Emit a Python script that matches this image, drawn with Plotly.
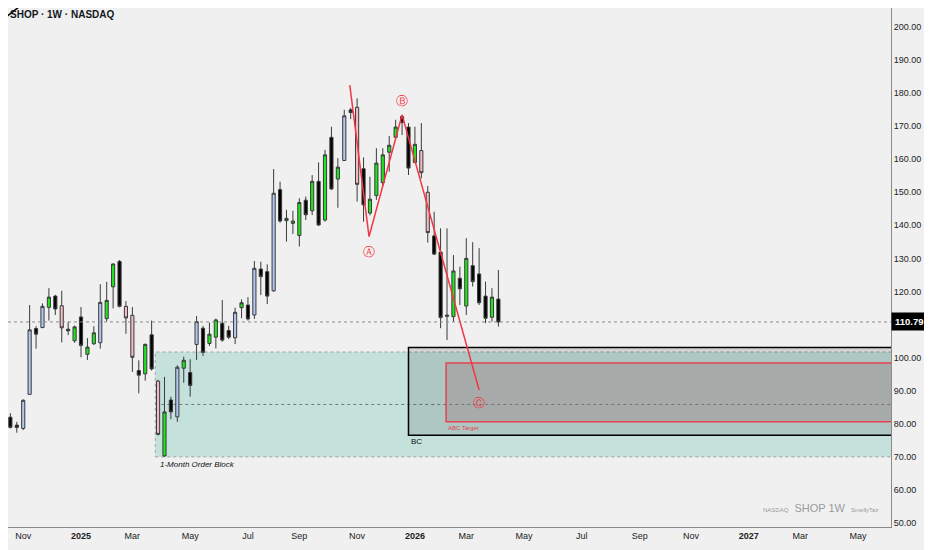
import pandas as pd
import plotly.graph_objects as go

# weekly SHOP candles, first bar = week of 2024-10-14
opens = [83.9, 82.0, 79.6, 78.6, 88.9, 108.8, 109.1, 115.2, 118.6, 115.7,
         108.6, 105.1, 112.3, 101.0, 104.2, 104.5, 111.8, 121.4, 129.1, 115.5,
         112.8, 96.1, 95.1, 106.9, 92.9, 70.3, 87.2, 82.1, 96.8, 95.5,
         104.0, 108.9, 104.3, 106.2, 110.4, 108.2, 106.0, 115.1, 115.9, 112.9,
         126.8, 126.0, 120.2, 150.8, 141.4, 140.6, 136.9, 147.6, 144.4, 153.3,
         141.6, 166.6, 154.0, 159.6, 174.9, 175.7, 157.1, 143.7, 149.0, 152.9,
         162.1, 166.6, 172.9, 169.7, 159.0, 162.6, 150.0, 136.8, 131.9, 112.5,
         112.4, 124.0, 115.6, 127.8, 125.3, 118.6, 112.2, 117.7]
highs = [84.5, 83.2, 80.6, 87.4, 115.9, 109.5, 116.4, 121.0, 119.0, 120.2,
         110.8, 109.7, 115.3, 105.9, 109.5, 122.2, 122.9, 128.5, 129.5, 117.1,
         115.3, 99.2, 104.3, 111.2, 93.3, 94.2, 88.2, 97.7, 100.3, 99.5,
         112.6, 109.6, 110.6, 111.8, 117.4, 109.6, 115.1, 117.6, 118.3, 129.2,
         129.0, 128.2, 157.0, 153.2, 144.7, 144.4, 148.2, 148.7, 155.2, 159.0,
         162.8, 169.8, 160.3, 174.9, 175.5, 178.4, 160.5, 154.7, 163.3, 163.3,
         167.0, 171.9, 173.4, 170.9, 169.8, 170.9, 151.9, 144.1, 139.1, 139.1,
         131.0, 127.5, 136.1, 134.9, 133.1, 123.0, 121.0, 126.5]
lows = [80.6, 78.6, 77.3, 78.1, 88.9, 102.7, 108.9, 111.2, 112.9, 104.6,
        106.8, 104.5, 100.1, 99.3, 103.8, 102.7, 111.0, 114.9, 115.2, 107.2,
        95.7, 89.2, 93.0, 96.1, 76.5, 70.0, 81.4, 80.6, 92.4, 88.2,
        99.3, 100.5, 103.5, 102.8, 104.8, 105.6, 104.1, 111.9, 111.2, 111.7,
        118.9, 116.2, 119.9, 140.8, 135.1, 137.4, 133.6, 141.6, 143.1, 139.8,
        141.1, 150.7, 145.3, 159.5, 172.1, 147.2, 141.1, 143.0, 147.7, 151.7,
        156.2, 165.8, 167.3, 155.2, 158.8, 154.2, 134.8, 131.0, 108.9, 105.3,
        110.9, 115.9, 112.9, 121.5, 115.9, 110.4, 110.9, 109.4]
closes = [82.4, 78.9, 78.9, 87.1, 108.4, 107.1, 115.5, 118.3, 114.7, 109.0,
          108.1, 109.3, 103.7, 103.2, 107.5, 116.7, 117.3, 128.3, 115.5, 112.0,
          100.1, 94.7, 104.0, 96.6, 76.8, 83.6, 83.6, 97.1, 99.2, 91.6,
          110.9, 101.6, 107.1, 111.4, 105.3, 106.2, 113.7, 116.6, 111.7, 127.0,
          124.5, 118.6, 149.7, 141.3, 142.1, 141.3, 146.9, 143.2, 153.3, 140.1,
          161.3, 151.0, 157.6, 173.1, 174.1, 152.4, 146.2, 147.9, 158.8, 161.3,
          164.2, 169.7, 171.1, 157.3, 164.5, 155.9, 137.8, 131.3, 112.1, 112.8,
          126.2, 120.8, 130.0, 123.0, 116.6, 111.9, 118.3, 110.79]
# bar colouring used on the chart: g=green, k=black, b=blue, p=pink
bar_kind = list("kkkbbkbgkp" "kgkggbggkp" "pkgkpgkbgk" "bkggkkbgkb"
                "kkbkgggkgk" "gkgbkpkggg" "ggkkgppkkk" "gkgkkkgk")
dates = pd.date_range("2024-10-14", periods=len(opens), freq="7D")

last_price = 110.79

# ABC swing (red line) and its labels
abc_x = ["2025-10-26", "2025-11-16", "2025-12-22", "2026-03-16"]
abc_y = [182.4, 136.6, 173.4, 90.2]
abc_lbl = ["Ⓐ", "Ⓑ", "Ⓒ"]
abc_lbl_x = ["2025-11-16", "2025-12-22", "2026-03-16"]
abc_lbl_y = [131.9, 177.6, 86.3]

# zones
ob_start, ob_top, ob_bot = "2025-03-28", 101.7, 70.0
bc_start, bc_top, bc_bot = "2025-12-29", 103.1, 76.5
tg_start, tg_top, tg_bot = "2026-02-08", 98.4, 80.6
far_right = "2027-12-31"

tick_dates = ["2024-11-04", "2025-01-06", "2025-03-03", "2025-05-05", "2025-07-07",
              "2025-09-01", "2025-11-03", "2026-01-05", "2026-03-02", "2026-05-04",
              "2026-07-06", "2026-09-07", "2026-11-02", "2027-01-04", "2027-03-01",
              "2027-05-03"]
tick_text = ["Nov", "<b>2025</b>", "Mar", "May", "Jul", "Sep", "Nov", "<b>2026</b>",
             "Mar", "May", "Jul", "Sep", "Nov", "<b>2027</b>", "Mar", "May"]
# 110 is hidden behind the last-price tag
price_ticks = [50, 60, 70, 80, 90, 100, 120, 130, 140, 150, 160, 170, 180, 190, 200]

colors = {"g": "#1ee61e", "k": "#000000", "b": "#b3c8ee", "p": "#f3bcc4"}

fig = go.Figure()

for kind, col in colors.items():
    idx = [i for i, k in enumerate(bar_kind) if k == kind]
    fig.add_trace(go.Candlestick(
        x=[dates[i] for i in idx],
        open=[opens[i] for i in idx], high=[highs[i] for i in idx],
        low=[lows[i] for i in idx], close=[closes[i] for i in idx],
        increasing=dict(fillcolor=col, line=dict(color="#3a3a3a", width=1)),
        decreasing=dict(fillcolor=col, line=dict(color="#3a3a3a", width=1)),
        whiskerwidth=0, showlegend=False, hoverinfo="skip"))

fig.add_trace(go.Scatter(x=abc_x, y=abc_y, mode="lines",
                         line=dict(color="#f23645", width=1.5),
                         showlegend=False, hoverinfo="skip"))

shapes = []
# 1-month order block
shapes.append(dict(type="rect", xref="x", yref="y", x0=ob_start, x1=far_right,
                   y0=ob_bot, y1=ob_top, fillcolor="#c5e1dc", layer="below",
                   line=dict(color="#9aa5a2", width=1, dash="dot")))
shapes.append(dict(type="line", xref="x", yref="y", x0=ob_start, x1=far_right,
                   y0=(ob_top + ob_bot) / 2, y1=(ob_top + ob_bot) / 2, layer="below",
                   line=dict(color="#6f7a78", width=1, dash="dot")))
# BC box
shapes.append(dict(type="rect", xref="x", yref="y", x0=bc_start, x1=far_right,
                   y0=bc_bot, y1=bc_top, fillcolor="rgba(40,40,40,0.14)", layer="below",
                   line=dict(color="#000000", width=1.5)))
# ABC target box
shapes.append(dict(type="rect", xref="x", yref="y", x0=tg_start, x1=far_right,
                   y0=tg_bot, y1=tg_top, fillcolor="rgba(150,120,120,0.35)", layer="below",
                   line=dict(color="#e8404f", width=1.5)))
# last price line
shapes.append(dict(type="line", xref="paper", yref="y", x0=0, x1=1,
                   y0=last_price, y1=last_price,
                   line=dict(color="#8a8a8a", width=1, dash="dot")))
# old trend line poking in at top-left
shapes.append(dict(type="line", xref="x", yref="y", x0="2024-10-09 15:00", y0=201.5,
                   x1="2024-11-24", y1=211.4, line=dict(color="#000000", width=1.5)))
fig.update_layout(shapes=shapes)

ann = []
for t, xx, yy in zip(abc_lbl, abc_lbl_x, abc_lbl_y):
    ann.append(dict(x=xx, y=yy, text=t, showarrow=False,
                    font=dict(color="#f23645", size=12, family="DejaVu Sans")))
ann.append(dict(x="2025-03-31", y=67.8, text="<i>1-Month Order Block</i>", showarrow=False,
                xanchor="left", font=dict(size=8, color="#111111")))
ann.append(dict(x="2025-12-30", y=74.8, text="BC", showarrow=False,
                xanchor="left", font=dict(size=8, color="#111111")))
ann.append(dict(x="2026-02-08", y=78.7, text="ABC Target", showarrow=False,
                xanchor="left", font=dict(size=6, color="#e8404f")))
ann.append(dict(xref="paper", yref="paper", x=0.0, y=0.988, text="<b>SHOP · 1W · NASDAQ</b>",
                showarrow=False, xanchor="left", yanchor="middle",
                font=dict(size=10, color="#131722")))
ann.append(dict(xref="paper", yref="paper", x=0.988, y=0.036,
                text="<span style='font-size:6px'>NASDAQ</span>  SHOP 1W  "
                     "<span style='font-size:6px'>SmellyTaz</span>",
                showarrow=False, xanchor="right", yanchor="middle",
                font=dict(size=11, color="#9a9a9a")))
ann.append(dict(xref="paper", yref="y", x=1, y=last_price, text="<b>110.79</b>",
                showarrow=False, xanchor="left", yanchor="middle", bgcolor="#000000",
                borderpad=3, font=dict(size=9.5, color="#ffffff")))

# page has an 8px body margin, so the figure is 8px smaller and the ranges start
# where the reference's pixel 8 would be
fig.update_layout(
    annotations=ann,
    width=924, height=542,
    margin=dict(l=0, r=41, t=0, b=23),
    paper_bgcolor="#f0f0f0", plot_bgcolor="#f0f0f0",
    font=dict(family="Liberation Sans", size=9, color="#222222"),
    xaxis=dict(type="date", range=["2024-10-18 10:00", "2027-06-08"],
               rangeslider=dict(visible=False), showgrid=False, zeroline=False,
               tickvals=tick_dates, ticktext=tick_text, ticks="",
               showline=True, linecolor="#8a8a8a", linewidth=1),
    yaxis=dict(side="right", range=[48.8, 205.7], tickvals=price_ticks,
               tickformat=".2f", showgrid=False, zeroline=False, ticks="",
               showline=True, linecolor="#8a8a8a", linewidth=1),
)

fig.write_html("out.html")
